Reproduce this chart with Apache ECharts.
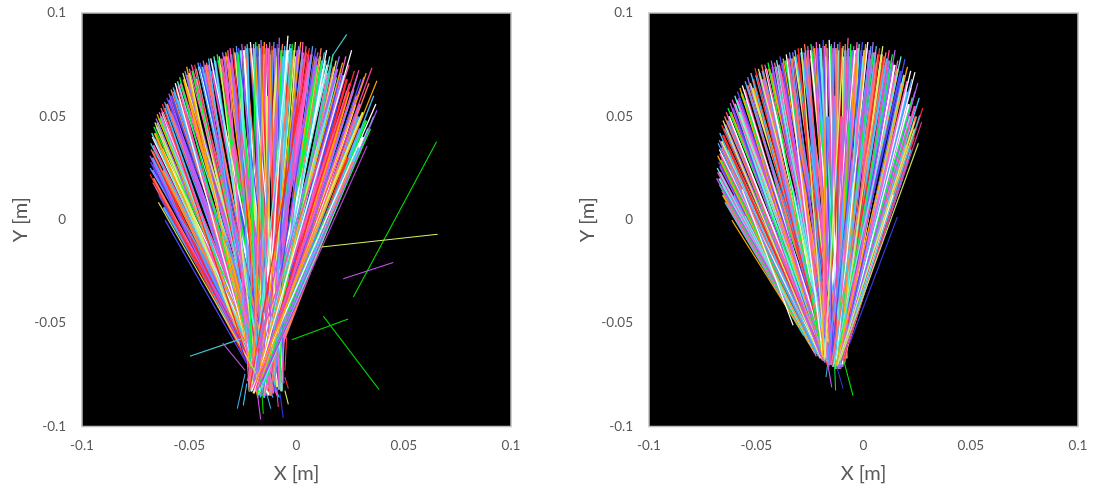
<!DOCTYPE html>
<html><head><meta charset="utf-8">
<script src="https://cdn.jsdelivr.net/npm/echarts@6/dist/echarts.min.js"></script>
<style>html,body{margin:0;padding:0;background:#fff}#c{width:1094px;height:491px}</style>
</head><body><div id="c"></div>
<script>
// every row: [far end X, far end Y, near end X, near end Y] in metres
const leftCore = [
[-.06,.012,-.02,-.068],[-.062,.024,-.016,-.074],[-.063,.034,-.012,-.078],[-.061,.044,-.018,-.072],[-.058,.052,-.013,-.076],
[-.055,.058,-.017,-.07],[-.051,.064,-.011,-.078],[-.047,.068,-.016,-.074],[-.043,.071,-.019,-.07],[-.039,.072,-.012,-.076],
[-.035,.074,-.015,-.08],[-.031,.076,-.01,-.072],[-.027,.077,-.018,-.078],[-.024,.078,-.014,-.074],[-.021,.079,-.009,-.076],
[-.018,.079,-.017,-.07],[-.015,.08,-.012,-.078],[-.012,.08,-.015,-.074],[-.009,.079,-.009,-.07],[-.006,.079,-.013,-.076],
[-.003,.079,-.016,-.072],[0,.079,-.01,-.078],[.003,.078,-.014,-.074],[.006,.076,-.018,-.07],[.009,.075,-.012,-.076],
[.012,.073,-.015,-.078],[.015,.071,-.011,-.072],[.018,.069,-.016,-.076],[.021,.066,-.013,-.074],[.024,.062,-.015,-.078],
[.027,.056,-.012,-.07],[.029,.05,-.016,-.076],[.03,.044,-.014,-.072],[.028,.038,-.015,-.078],[.024,.03,-.012,-.074],
[-.0135,.06,-.0135,-.07],[-.01,.05,-.011,-.074],[-.006,.04,-.009,-.072],[-.0165,.05,-.015,-.076],[-.003,.03,-.01,-.07]
];
const leftFill = [
[-.0655,.016,-.017,-.078],[-.0668,.02,-.013,-.082],[-.0672,.024,-.01,-.079],[-.0668,.027,-.016,-.074],[-.0672,.03,-.012,-.084],
[-.067,.033,-.018,-.08],[-.0668,.036,-.014,-.076],[-.0662,.039,-.009,-.083],[-.066,.042,-.016,-.079],[-.0652,.045,-.012,-.075],
[-.0648,.047,-.017,-.082],[-.064,.049,-.01,-.08],[-.0632,.05,-.015,-.078],[-.0625,.052,-.013,-.085],[-.0615,.054,-.018,-.077],
[-.0605,.056,-.011,-.081],[-.0595,.058,-.016,-.079],[-.0585,.06,-.009,-.083],[-.0572,.062,-.014,-.076],[-.056,.063,-.012,-.08],
[-.055,.065,-.017,-.084],[-.054,.066,-.01,-.078],[-.0525,.068,-.015,-.081],[-.0512,.07,-.013,-.075],[-.05,.071,-.019,-.083],
[-.0485,.072,-.011,-.08],[-.047,.073,-.016,-.077],[-.0455,.074,-.008,-.082],[-.044,.074,-.014,-.079],[-.0425,.075,-.012,-.085],
[-.041,.075,-.019,-.076],[-.0395,.076,-.01,-.081],[-.038,.077,-.016,-.079],[-.0365,.077,-.007,-.083],[-.035,.078,-.013,-.075],
[-.0335,.079,-.02,-.08],[-.032,.079,-.011,-.084],[-.0305,.08,-.017,-.077],[-.029,.081,-.009,-.081],[-.0275,.081,-.014,-.079],
[-.026,.082,-.021,-.083],[-.0245,.082,-.012,-.076],[-.023,.083,-.018,-.08],[-.0215,.083,-.007,-.082],[-.02,.083,-.015,-.085],
[-.0185,.084,-.01,-.075],[-.017,.083,-.019,-.079],[-.0155,.084,-.013,-.083],[-.014,.083,-.021,-.077],[-.013,.083,-.008,-.081],
[-.0115,.082,-.016,-.084],[-.01,.083,-.011,-.078],[-.0085,.083,-.02,-.08],[-.007,.082,-.014,-.076],[-.0055,.082,-.007,-.083],
[-.004,.082,-.018,-.079],[-.0025,.083,-.012,-.085],[-.001,.082,-.022,-.081],[.0005,.082,-.009,-.077],[.0015,.082,-.016,-.083],
[.003,.081,-.013,-.079],[.0045,.081,-.02,-.076],[.0055,.08,-.011,-.084],[.007,.08,-.017,-.08],[.0085,.079,-.014,-.082],
[.0095,.078,-.021,-.078],[.011,.079,-.012,-.076],[.012,.077,-.018,-.084],[.0135,.077,-.015,-.08],[.0145,.075,-.02,-.082],
[.016,.075,-.013,-.078],[.0175,.074,-.017,-.085],[.019,.073,-.022,-.08],[.0205,.071,-.015,-.076],[.022,.07,-.019,-.083],
[.0235,.068,-.016,-.079],[.025,.066,-.021,-.081],[.0265,.063,-.017,-.077],[.028,.06,-.02,-.084],[.0295,.056,-.016,-.08],
[.031,.052,-.022,-.082],[.0325,.048,-.018,-.078],[.0335,.044,-.017,-.083],[.031,.04,-.016,-.079],[.029,.035,-.015,-.077],
[.026,.028,-.014,-.08],[.022,.022,-.015,-.076],[-.064,.012,-.016,-.076],[-.062,.006,-.018,-.072],[-.059,.004,-.02,-.07]
];
const leftFan = [
[-.067,.018,-.012,-.08],[-.0683,.022,-.016,-.083],[-.0682,.025,-.009,-.076],[-.068,.028,-.014,-.085],[-.0683,.031,-.018,-.078],
[-.0678,.034,-.011,-.082],[-.068,.037,-.008,-.086],[-.0672,.04,-.015,-.074],[-.0675,.042,-.013,-.081],[-.0665,.045,-.01,-.079],
[-.066,.047,-.017,-.08],[-.0655,.049,-.012,-.083],[-.065,.051,-.016,-.076],[-.064,.052,-.009,-.085],[-.0632,.054,-.014,-.078],
[-.0625,.056,-.018,-.082],[-.0615,.057,-.011,-.086],[-.0605,.059,-.008,-.074],[-.0595,.061,-.015,-.081],[-.0585,.063,-.013,-.079],
[-.0575,.064,-.01,-.08],[-.0565,.066,-.017,-.083],[-.0555,.067,-.012,-.076],[-.0545,.069,-.016,-.085],[-.053,.071,-.009,-.078],
[-.052,.072,-.014,-.082],[-.0512,.074,-.018,-.086],[-.05,.073,-.011,-.074],[-.049,.075,-.008,-.081],[-.0475,.075,-.015,-.079],
[-.046,.076,-.013,-.08],[-.045,.076,-.01,-.083],[-.0435,.077,-.017,-.076],[-.042,.076,-.012,-.085],[-.041,.078,-.02,-.078],
[-.04,.078,-.008,-.082],[-.0385,.079,-.015,-.086],[-.037,.08,-.011,-.074],[-.036,.079,-.018,-.081],[-.0345,.081,-.006,-.079],
[-.033,.081,-.013,-.08],[-.032,.082,-.022,-.083],[-.031,.083,-.01,-.076],[-.0295,.083,-.016,-.085],[-.028,.084,-.02,-.078],
[-.027,.083,-.008,-.082],[-.0255,.085,-.015,-.086],[-.024,.084,-.011,-.074],[-.023,.085,-.018,-.081],[-.0215,.086,-.006,-.079],
[-.02,.085,-.013,-.08],[-.019,.086,-.022,-.083],[-.0175,.085,-.01,-.076],[-.0165,.087,-.016,-.085],[-.015,.086,-.02,-.078],
[-.014,.085,-.008,-.082],[-.0125,.086,-.015,-.086],[-.0115,.084,-.011,-.074],[-.0105,.086,-.018,-.081],[-.009,.085,-.006,-.079],
[-.008,.088,-.013,-.08],[-.0065,.085,-.022,-.083],[-.0055,.084,-.01,-.076],[-.004,.089,-.016,-.085],[-.003,.085,-.02,-.078],
[-.002,.085,-.008,-.082],[-.0005,.086,-.015,-.086],[.001,.084,-.011,-.074],[.002,.086,-.018,-.081],[.003,.086,-.007,-.079],
[.0045,.084,-.013,-.08],[.006,.083,-.022,-.083],[.0075,.084,-.01,-.076],[.009,.083,-.016,-.085],[.01,.081,-.02,-.078],
[.0115,.083,-.012,-.082],[.013,.081,-.015,-.086],[.014,.082,-.013,-.074],[.0155,.079,-.018,-.081],[.017,.08,-.014,-.079],
[.0185,.077,-.016,-.08],[.02,.079,-.021,-.083],[.0215,.076,-.018,-.076],[.023,.079,-.015,-.085],[.0245,.075,-.023,-.078],
[.027,.072,-.019,-.082],[.0285,.07,-.017,-.086],[.03,.068,-.016,-.074],[.0315,.069,-.02,-.081],[.0338,.066,-.018,-.079],
[.036,.06,-.016,-.08],[.037,.056,-.021,-.083],[.036,.05,-.018,-.085],[.0345,.044,-.017,-.078]
];
const leftEdge = [
[.0234,.0897,.017,.0797],[.017,.0797,-.016,-.08],[.0257,.082,-.02,-.084],[.0291,.0724,-.018,-.08],[.0325,.071,-.016,-.076],
[.0352,.0735,-.02,-.082],[.0375,.0672,-.019,-.078],[.0375,.053,-.018,-.082],[.0329,.0357,-.016,-.078],
[-.0644,.0085,-.019,-.074],[-.0613,-.0002,-.0232,-.0695]
];
const leftEdgeColors = ['#3fc6c6','#3fc6c6','#ffffff','#ff4fa8','#ffa500','#ff3fa0','#ffa500','#b455f5','#b040d0','#d8e050','#4a4aff'];
const leftStrays = [
[.0265,-.0374,.0653,.0377],[.0117,-.0132,.0658,-.007],[.0218,-.0285,.0451,-.0207],[-.0022,-.058,.0241,-.048],
[.0125,-.0466,.0385,-.0822],[-.0497,-.066,-.0255,-.0575],[-.0344,-.0597,-.024,-.0729],
[-.024,-.0745,-.0276,-.0914],[-.0232,-.0792,-.0248,-.0898],[-.0186,-.081,-.0167,-.0966],[-.0162,-.0826,-.0155,-.0939],
[-.0077,-.084,-.0062,-.0958],[-.0139,-.084,-.012,-.0914],[-.0092,-.0826,-.0085,-.0906],[-.0054,-.0826,-.0038,-.0893],
[-.0054,-.0761,-.0038,-.0817],[-.0046,-.0568,-.0054,-.0729],[-.0263,-.0598,-.0232,-.0695]
];
const leftStrayColors = ['#00e000','#d8f060','#c455f5','#00e000','#00d000','#3fd0d8','#b455d5','#3fa8d8','#3fc6ff','#e050f0','#00d000','#3030e0','#3fa8d8','#ff3f9f','#d8f060','#ff2b2b','#ff3b2b','#2a2ae0'];

const rightCore = [
[-.06,.012,-.026,-.056],[-.062,.024,-.022,-.064],[-.063,.034,-.019,-.066],[-.061,.044,-.021,-.064],[-.058,.052,-.016,-.068],
[-.055,.058,-.018,-.066],[-.051,.064,-.014,-.07],[-.047,.068,-.017,-.068],[-.043,.071,-.012,-.07],[-.039,.072,-.015,-.069],
[-.035,.074,-.018,-.066],[-.031,.076,-.012,-.07],[-.027,.077,-.015,-.069],[-.024,.078,-.01,-.069],[-.021,.079,-.013,-.07],
[-.018,.079,-.016,-.068],[-.015,.08,-.012,-.07],[-.012,.08,-.014,-.07],[-.009,.079,-.01,-.069],[-.006,.079,-.013,-.07],
[-.003,.079,-.015,-.069],[0,.079,-.011,-.07],[.003,.078,-.013,-.07],[.006,.076,-.009,-.067],[.009,.075,-.012,-.07],
[.012,.072,-.011,-.07],[.015,.07,-.012,-.07],[.018,.066,-.01,-.068],[.02,.062,-.012,-.07],[.021,.056,-.011,-.069],
[.022,.05,-.012,-.07],[.021,.044,-.011,-.069],[.02,.036,-.011,-.068],[.017,.028,-.01,-.067],[.013,.02,-.01,-.066],
[-.0135,.06,-.013,-.07],[-.01,.05,-.011,-.069],[-.006,.04,-.01,-.068],[-.0165,.05,-.015,-.069],[-.003,.03,-.01,-.068]
];
const rightFill = [
[-.0655,.012,-.026,-.058],[-.0662,.016,-.024,-.06],[-.0672,.02,-.023,-.063],[-.067,.023,-.025,-.06],[-.0668,.026,-.021,-.065],
[-.0665,.029,-.023,-.062],[-.0668,.032,-.02,-.067],[-.066,.035,-.022,-.064],[-.0662,.038,-.018,-.068],[-.0655,.041,-.02,-.066],
[-.065,.044,-.016,-.07],[-.0645,.046,-.019,-.067],[-.0635,.048,-.015,-.07],[-.0628,.05,-.018,-.068],[-.062,.052,-.014,-.071],
[-.061,.054,-.017,-.069],[-.06,.056,-.02,-.066],[-.059,.058,-.013,-.071],[-.058,.059,-.016,-.07],[-.0568,.061,-.012,-.072],
[-.0555,.063,-.018,-.068],[-.0542,.065,-.015,-.07],[-.053,.066,-.011,-.072],[-.0515,.068,-.017,-.068],[-.05,.07,-.014,-.071],
[-.0485,.071,-.019,-.066],[-.047,.072,-.012,-.072],[-.0455,.073,-.016,-.07],[-.044,.073,-.01,-.071],[-.0425,.074,-.015,-.07],
[-.041,.074,-.018,-.067],[-.0395,.075,-.012,-.072],[-.038,.076,-.017,-.068],[-.0365,.077,-.009,-.069],[-.035,.078,-.014,-.071],
[-.0335,.078,-.019,-.066],[-.032,.079,-.011,-.072],[-.0305,.08,-.016,-.07],[-.029,.081,-.008,-.067],[-.0275,.081,-.013,-.072],
[-.026,.082,-.018,-.067],[-.0245,.082,-.01,-.071],[-.023,.083,-.015,-.07],[-.0215,.083,-.008,-.067],[-.02,.083,-.012,-.072],
[-.0185,.084,-.017,-.068],[-.017,.083,-.01,-.071],[-.0155,.084,-.014,-.071],[-.014,.083,-.019,-.066],[-.013,.083,-.009,-.069],
[-.0115,.082,-.013,-.072],[-.01,.083,-.016,-.07],[-.0085,.082,-.011,-.072],[-.007,.083,-.015,-.07],[-.0055,.082,-.008,-.067],
[-.004,.082,-.018,-.067],[-.0025,.083,-.012,-.072],[-.001,.082,-.01,-.071],[.0005,.082,-.014,-.071],[.0015,.083,-.016,-.07],
[.003,.082,-.011,-.072],[.0045,.081,-.013,-.072],[.0055,.081,-.009,-.069],[.007,.08,-.015,-.07],[.0085,.08,-.012,-.072],
[.0095,.079,-.01,-.071],[.011,.078,-.014,-.071],[.012,.077,-.011,-.072],[.0135,.076,-.013,-.071],[.0145,.075,-.01,-.07],
[.016,.073,-.012,-.072],[.0175,.072,-.014,-.071],[.019,.07,-.011,-.071],[.0205,.067,-.012,-.07],[.022,.064,-.01,-.069],
[.023,.059,-.012,-.071],[.024,.055,-.011,-.07],[.0245,.05,-.012,-.071],[.024,.044,-.011,-.069],[.0235,.04,-.012,-.07],
[.022,.034,-.011,-.068],[.0205,.028,-.01,-.067],[.018,.02,-.011,-.069],[.014,.012,-.009,-.066],[-.062,.006,-.028,-.054],
[-.059,.002,-.03,-.05],[-.055,.002,-.027,-.056],[-.064,.008,-.025,-.06]
];
const rightFan = [
[-.066,.014,-.024,-.062],[-.0672,.017,-.023,-.064],[-.0685,.02,-.024,-.061],[-.068,.023,-.022,-.066],[-.0682,.025,-.024,-.062],
[-.0675,.028,-.021,-.066],[-.068,.031,-.023,-.064],[-.0672,.034,-.019,-.068],[-.0678,.037,-.022,-.065],[-.0672,.0385,-.018,-.069],
[-.067,.042,-.021,-.066],[-.0661,.0458,-.017,-.07],[-.0655,.048,-.02,-.067],[-.0648,.05,-.016,-.071],[-.064,.052,-.019,-.068],
[-.0632,.054,-.015,-.07],[-.0622,.0564,-.02,-.066],[-.0612,.058,-.014,-.071],[-.06,.06,-.018,-.068],[-.0588,.062,-.013,-.072],
[-.0576,.0637,-.019,-.066],[-.0565,.065,-.016,-.07],[-.0552,.067,-.012,-.072],[-.054,.069,-.02,-.065],[-.0525,.071,-.015,-.07],
[-.0506,.0733,-.018,-.067],[-.049,.073,-.013,-.071],[-.0475,.075,-.017,-.069],[-.046,.075,-.011,-.072],[-.0445,.076,-.019,-.066],
[-.043,.077,-.015,-.07],[-.0415,.076,-.012,-.072],[-.0405,.0772,-.017,-.068],[-.039,.079,-.01,-.071],[-.0375,.078,-.014,-.071],
[-.036,.08,-.019,-.066],[-.0345,.081,-.012,-.072],[-.033,.081,-.016,-.07],[-.032,.082,-.009,-.069],[-.0305,.083,-.014,-.071],
[-.029,.083,-.018,-.067],[-.0275,.085,-.011,-.072],[-.026,.084,-.015,-.07],[-.0245,.085,-.008,-.067],[-.0235,.084,-.013,-.072],
[-.022,.086,-.017,-.068],[-.0205,.085,-.01,-.071],[-.0188,.0869,-.014,-.071],[-.0175,.085,-.019,-.066],[-.016,.087,-.012,-.072],
[-.015,.085,-.009,-.069],[-.0135,.086,-.016,-.07],[-.012,.085,-.011,-.072],[-.011,.086,-.013,-.072],[-.0095,.084,-.018,-.067],
[-.0085,.085,-.008,-.067],[-.0072,.0879,-.014,-.071],[-.006,.085,-.01,-.071],[-.0045,.084,-.016,-.07],[-.003,.086,-.012,-.072],
[-.002,.085,-.009,-.069],[-.0005,.086,-.015,-.07],[.001,.085,-.011,-.072],[.002,.086,-.013,-.072],[.0035,.084,-.017,-.068],
[.0045,.086,-.01,-.071],[.006,.084,-.014,-.071],[.0075,.083,-.009,-.069],[.009,.084,-.012,-.072],[.0105,.081,-.015,-.07],
[.012,.082,-.011,-.072],[.0135,.08,-.013,-.072],[.0147,.082,-.01,-.071],[.016,.077,-.012,-.072],[.0175,.079,-.014,-.071],
[.0193,.0777,-.011,-.072],[.0205,.074,-.013,-.071],[.022,.072,-.01,-.07],[.0225,.068,-.012,-.072],[.024,.062,-.011,-.071],
[.026,.059,-.012,-.07]
];
const rightEdge = [
[.024,.0714,-.011,-.07],[.0253,.0661,-.012,-.072],[.0276,.054,-.0095,-.068],[.0262,.0505,-.011,-.07],[.0271,.0472,-.0105,-.069],
[.0238,.0475,-.012,-.07],[.0256,.037,-.011,-.068],[.0158,.0014,-.0065,-.06],
[-.0646,.0085,-.028,-.056],[-.0614,-.0002,-.03,-.052],[-.0565,.0146,-.0328,-.051]
];
const rightEdgeColors = ['#ffffff','#c455f5','#ff2b4b','#3fc6e0','#d040a0','#d8f060','#c8e050','#3838e0','#3fc6c6','#ffa500','#ffffff'];
const rightStrays = [
[-.0175,-.0761,-.0162,-.066],[-.0148,-.0811,-.0168,-.069],[-.013,-.0826,-.0135,-.07],[-.0095,-.0817,-.0125,-.071],[-.0049,-.085,-.0095,-.067]
];
const rightStrayColors = ['#3fa8d8','#c455f5','#00e040','#3030d0','#00e000'];

const tickLabelFont = 'Lato';
const palette = ['#ff4fa8','#4a4aff','#3fc6ff','#00ff33','#ffa500','#ff2b2b','#c455f5','#ffffff','#d8f060','#ff5fd0','#4fa0ff','#ff7a5a','#60f0e0','#a070ff'];

const series = [];
function add(rows, colorOf, idx, w) {
  rows.forEach((r, i) => series.push({
    type: 'line', xAxisIndex: idx, yAxisIndex: idx, silent: true, animation: false,
    showSymbol: false, symbol: 'none', clip: true,
    data: [[r[0], r[1]], [r[2], r[3]]],
    lineStyle: { width: w, color: colorOf(i) }
  }));
}
add(leftCore, i => palette[(i * 3 + 1) % palette.length], 0, 4);
add(leftFill, i => palette[(i * 9 + 2) % palette.length], 0, 2.4);
add(leftFan, i => palette[(i * 5) % palette.length], 0, 1.3);
add(leftEdge, i => leftEdgeColors[i], 0, 1.2);
add(leftStrays, i => leftStrayColors[i], 0, 1.1);
add(rightCore, i => palette[(i * 5 + 2) % palette.length], 1, 4);
add(rightFill, i => palette[(i * 11 + 4) % palette.length], 1, 2.4);
add(rightFan, i => palette[(i * 3) % palette.length], 1, 1.3);
add(rightEdge, i => rightEdgeColors[i], 1, 1.2);
add(rightStrays, i => rightStrayColors[i], 1, 1.1);

const axisBase = {
  min: -0.1, max: 0.1, interval: 0.05, type: 'value',
  axisLine: { show: false }, axisTick: { show: false }, splitLine: { show: false },
  nameLocation: 'middle',
  nameTextStyle: { color: '#595959', fontSize: 20, fontFamily: tickLabelFont }
};
const xa = (i) => Object.assign({}, axisBase, { gridIndex: i, name: 'X [m]', nameGap: 37,
  axisLabel: { color: '#595959', fontSize: 13.5, fontFamily: tickLabelFont, margin: 12 } });
const ya = (i) => Object.assign({}, axisBase, { gridIndex: i, name: 'Y [m]', nameGap: 50,
  axisLabel: { color: '#595959', fontSize: 13.5, fontFamily: tickLabelFont, margin: 16 } });

const chart = echarts.init(document.getElementById('c'), null, { renderer: 'canvas' });
chart.setOption({
  animation: false,
  backgroundColor: '#fff',
  grid: [
    { left: 82, top: 13, width: 429, height: 413.5, show: true, backgroundColor: '#000', borderColor: '#bdbdbd', borderWidth: 1.5 },
    { left: 649, top: 13, width: 429, height: 413.5, show: true, backgroundColor: '#000', borderColor: '#bdbdbd', borderWidth: 1.5 }
  ],
  xAxis: [xa(0), xa(1)],
  yAxis: [ya(0), ya(1)],
  series
});
</script></body></html>
